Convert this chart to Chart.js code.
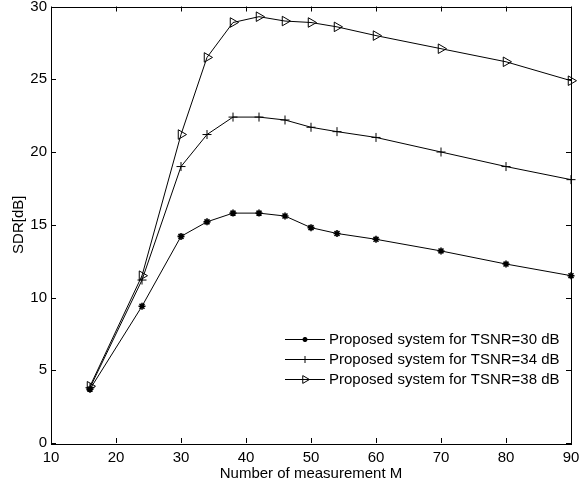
<!DOCTYPE html>
<html>
<head>
<meta charset="utf-8">
<script src="https://cdn.jsdelivr.net/npm/chart.js@4"></script>
<style>
  html, body { margin: 0; padding: 0; background: #ffffff; }
  #wrap { width: 579px; height: 484px; }
</style>
</head>
<body>
<div id="wrap"><canvas id="sdr-chart" width="579" height="484"></canvas></div>
<script>
// Number of measurements M
const measurements = [16, 24, 30, 34, 38, 42, 46, 50, 54, 60, 70, 80, 90];

// SDR [dB] for each TSNR
const sdrTsnr30 = [3.7, 9.4, 14.2, 15.2, 15.8, 15.8, 15.6, 14.8, 14.4, 14.0, 13.2, 12.3, 11.5];
const sdrTsnr34 = [3.8, 11.2, 19.0, 21.2, 22.4, 22.4, 22.2, 21.7, 21.4, 21.0, 20.0, 19.0, 18.1];
const sdrTsnr38 = [3.9, 11.5, 21.2, 26.5, 28.9, 29.3, 29.0, 28.9, 28.6, 28.0, 27.1, 26.2, 24.9];

const seriesLabels = [
  'Proposed system for TSNR=30 dB',
  'Proposed system for TSNR=34 dB',
  'Proposed system for TSNR=38 dB'
];

const xTicks = [10, 20, 30, 40, 50, 60, 70, 80, 90];
const yTicks = [0, 5, 10, 15, 20, 25, 30];

const FONT = 'Liberation Sans, Arial, sans-serif';

function toPoints(values) {
  return measurements.map((m, i) => ({ x: m, y: values[i] }));
}

// Draws the box around the plot with inward tick marks (MATLAB style)
const boxPlugin = {
  id: 'boxPlugin',
  afterDraw(chart) {
    const ctx = chart.ctx;
    const area = chart.chartArea;
    const xs = chart.scales.x;
    const ys = chart.scales.y;
    ctx.save();
    ctx.strokeStyle = '#000000';
    ctx.lineWidth = 1;
    ctx.strokeRect(Math.round(area.left) + 0.5, Math.round(area.top) + 0.5,
      Math.round(area.right - area.left), Math.round(area.bottom - area.top));
    ctx.beginPath();
    xTicks.forEach((t) => {
      const px = Math.round(xs.getPixelForValue(t)) + 0.5;
      ctx.moveTo(px, area.bottom);
      ctx.lineTo(px, area.bottom - 5);
      ctx.moveTo(px, area.top);
      ctx.lineTo(px, area.top + 5);
    });
    yTicks.forEach((t) => {
      const py = Math.round(ys.getPixelForValue(t)) + 0.5;
      ctx.moveTo(area.left, py);
      ctx.lineTo(area.left + 5, py);
      ctx.moveTo(area.right, py);
      ctx.lineTo(area.right - 5, py);
    });
    ctx.stroke();
    ctx.restore();
  }
};

// Legend with a short line and marker for each series
const legendPlugin = {
  id: 'lineLegend',
  afterDraw(chart) {
    const ctx = chart.ctx;
    const area = chart.chartArea;
    const x0 = area.left + 234;
    const y0 = area.top + 333;
    ctx.save();
    ctx.font = '15px ' + FONT;
    ctx.textBaseline = 'middle';
    chart.data.datasets.forEach((ds, i) => {
      const y = y0 + i * 20;
      ctx.strokeStyle = '#000000';
      ctx.lineWidth = 1;
      ctx.beginPath();
      ctx.moveTo(x0, y);
      ctx.lineTo(x0 + 40, y);
      ctx.stroke();
      ctx.fillStyle = 'rgba(0,0,0,0)';
      ctx.lineWidth = ds.pointBorderWidth;
      Chart.helpers.drawPoint(ctx, {
        pointStyle: ds.pointStyle,
        radius: ds.pointRadius - 1,
        rotation: ds.pointRotation || 0,
        borderWidth: ds.pointBorderWidth
      }, x0 + 20, y);
      ctx.fillStyle = '#000000';
      ctx.fillText(ds.label, x0 + 44, y);
    });
    ctx.restore();
  }
};

const ctx = document.getElementById('sdr-chart').getContext('2d');

const commonDataset = {
  borderColor: '#000000',
  backgroundColor: 'rgba(0,0,0,0)',
  pointBorderColor: '#000000',
  pointBackgroundColor: 'rgba(0,0,0,0)',
  borderWidth: 1,
  pointBorderWidth: 1,
  showLine: true,
  tension: 0,
  clip: false
};

window.sdrChart = new Chart(ctx, {
  type: 'scatter',
  data: {
    datasets: [
      Object.assign({}, commonDataset, {
        label: seriesLabels[0],
        data: toPoints(sdrTsnr30),
        pointStyle: 'star',
        pointRadius: 3.5,
        pointBorderWidth: 1.6
      }),
      Object.assign({}, commonDataset, {
        label: seriesLabels[1],
        data: toPoints(sdrTsnr34),
        pointStyle: 'cross',
        pointRadius: 4.5
      }),
      Object.assign({}, commonDataset, {
        label: seriesLabels[2],
        data: toPoints(sdrTsnr38),
        pointStyle: 'triangle',
        pointRotation: 90,
        pointRadius: 5.5
      })
    ]
  },
  options: {
    responsive: false,
    animation: false,
    devicePixelRatio: 1,
    layout: { padding: { top: 5, right: 8, left: 10, bottom: 0 } },
    plugins: {
      legend: { display: false },
      tooltip: { enabled: false }
    },
    scales: {
      x: {
        type: 'linear',
        min: 10,
        max: 90,
        afterBuildTicks: (scale) => { scale.ticks = xTicks.map((v) => ({ value: v })); },
        afterFit: (scale) => {
          scale.height = 41;
          scale.paddingLeft = 0;
          scale.paddingRight = 0;
        },
        grid: { display: false, drawTicks: false },
        border: { display: false },
        ticks: { color: '#000000', font: { family: FONT, size: 15 }, padding: 6, maxRotation: 0 },
        title: {
          display: true,
          text: 'Number of measurement M',
          color: '#000000',
          font: { family: FONT, size: 15 },
          padding: { top: 0, bottom: 1 }
        }
      },
      y: {
        type: 'linear',
        min: 0,
        max: 30,
        afterBuildTicks: (scale) => { scale.ticks = yTicks.map((v) => ({ value: v })); },
        afterFit: (scale) => {
          scale.width = 41;
          scale.paddingTop = 0;
          scale.paddingBottom = 0;
        },
        grid: { display: false, drawTicks: false },
        border: { display: false },
        ticks: { color: '#000000', font: { family: FONT, size: 15 }, padding: 4 },
        title: {
          display: true,
          text: 'SDR[dB]',
          color: '#000000',
          font: { family: FONT, size: 15 },
          padding: { top: 0, bottom: 0 }
        }
      }
    }
  },
  plugins: [boxPlugin, legendPlugin]
});
</script>
</body>
</html>
